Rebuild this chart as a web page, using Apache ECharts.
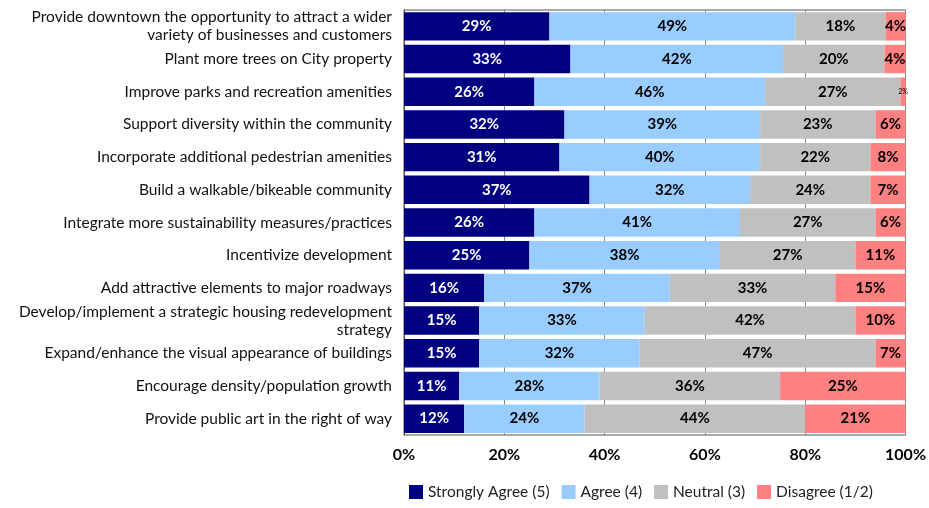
<!DOCTYPE html>
<html><head><meta charset="utf-8">
<script src="https://cdn.jsdelivr.net/npm/echarts@6/dist/echarts.min.js"></script>
<style>html,body{margin:0;padding:0;background:#fff}#c{width:929px;height:508px}</style>
</head><body><div id="c"></div>
<script>
const categories = [
  "Provide downtown the opportunity to attract a wider\nvariety of businesses and customers",
  "Plant more trees on City property",
  "Improve parks and recreation amenities",
  "Support diversity within the community",
  "Incorporate additional pedestrian amenities",
  "Build a walkable/bikeable community",
  "Integrate more sustainability measures/practices",
  "Incentivize development",
  "Add attractive elements to major roadways",
  "Develop/implement a strategic housing redevelopment\nstrategy",
  "Expand/enhance the visual appearance of buildings",
  "Encourage density/population growth",
  "Provide public art in the right of way"
];
const stronglyAgree = [29,33.2,26,32,31,37,26,25,16,15,15,11,12];
const agree         = [49,42.4,46,39,40,32,41,38,37,33,32,28,24];
const neutral       = [18,20.2,27,23,22,24,27,27,33,42,47,36,44];
const disagree      = [4,4.2,2,6,8,7,6,11,15,10,7,25,21];
const seriesNames = ["Strongly Agree (5)","Agree (4)","Neutral (3)","Disagree (1/2)"];
const xTicks = [0,20,40,60,80,100];

const colors = ["#000080","#99CCFF","#C0C0C0","#FF8080"];
const font = "Lato, 'Open Sans', sans-serif";
function mk(name, vals, color, labelColor){
  return {
    name, type:'bar', stack:'t', barCategoryGap:'13%',
    itemStyle:{color},
    label:{show:true, position:'inside', color:labelColor, fontWeight:'bold', fontSize:15, fontFamily:font,
      formatter:p=>Math.round(p.value)+'%'},
    data: vals.map(v=> v<3 ? {value:v, label:{fontSize:7, fontWeight:'normal'}} : v)
  };
}
const chart = echarts.init(document.getElementById('c'));
chart.setOption({
  animation:false,
  textStyle:{fontFamily:font},
  grid:{left:404, right:22, top:10, bottom:73, show:true, borderColor:'#555', borderWidth:1},
  legend:{bottom:3, left:404, itemWidth:14, itemHeight:14, itemGap:12, icon:'rect',
    textStyle:{fontSize:15.5, color:'#222', fontFamily:font}},
  xAxis:{type:'value', min:0, max:100, interval:20,
    axisLabel:{formatter:v=> xTicks.includes(v)? v+'%':'', fontWeight:'bold', fontSize:16, color:'#000', margin:12},
    axisLine:{show:false}, axisTick:{show:false},
    splitLine:{show:true, lineStyle:{color:'#888'}}},
  yAxis:{type:'category', inverse:true, data:categories,
    axisLine:{show:true, lineStyle:{color:'#555'}}, axisTick:{show:false},
    axisLabel:{fontSize:15.5, color:'#111', margin:12, lineHeight:18, align:'right'}},
  series:[
    mk(seriesNames[0], stronglyAgree, colors[0], '#fff'),
    mk(seriesNames[1], agree, colors[1], '#000'),
    mk(seriesNames[2], neutral, colors[2], '#000'),
    mk(seriesNames[3], disagree, colors[3], '#000')
  ]
});
</script></body></html>
